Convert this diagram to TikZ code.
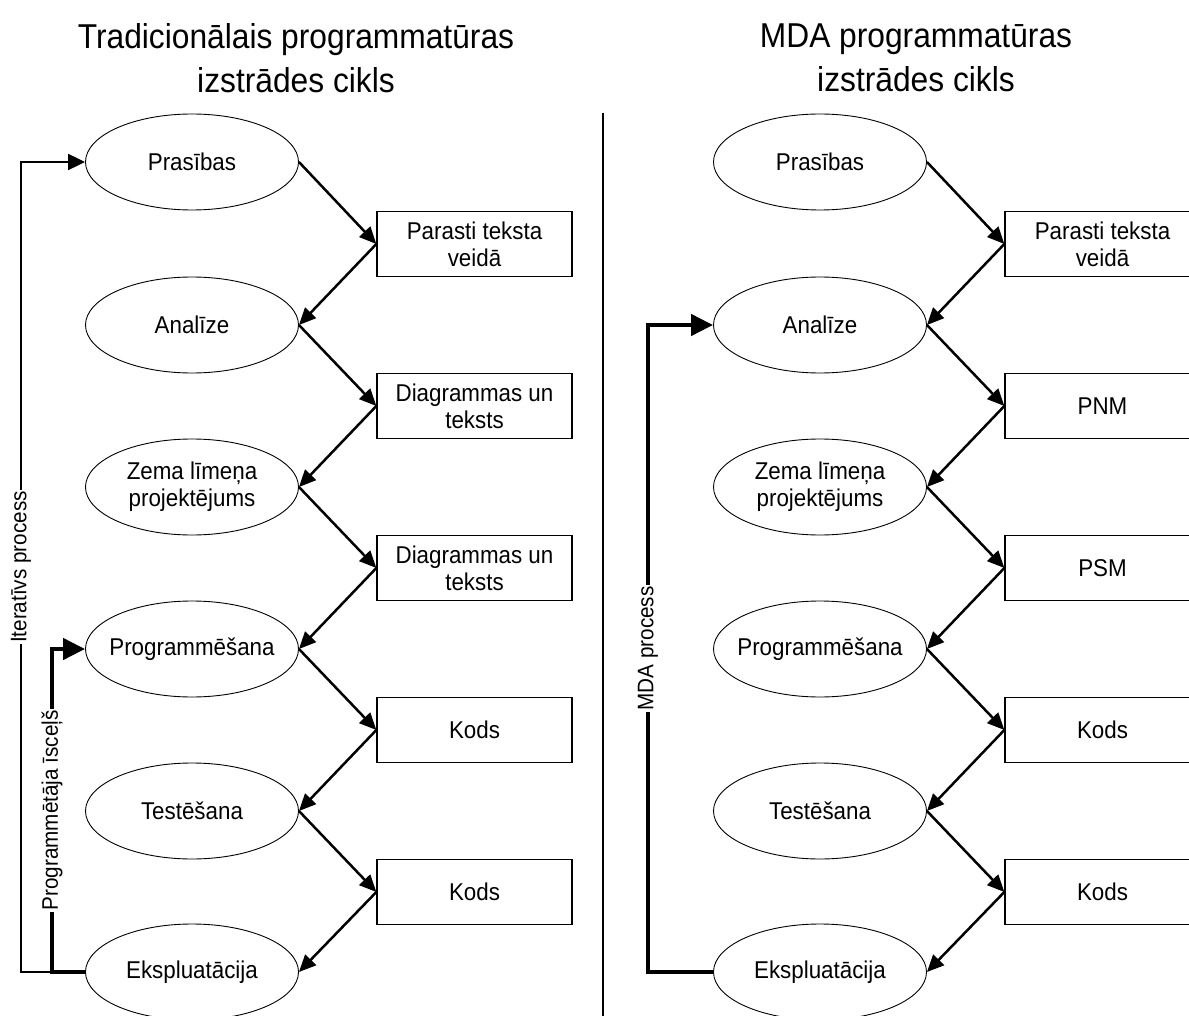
\documentclass[tikz,border=0pt]{standalone}
\usepackage{fontspec}
\setmainfont{Liberation Sans}[FakeStretch=0.92]
\usetikzlibrary{shapes.geometric,arrows.meta}

\begin{document}
\begin{tikzpicture}[x=1pt,y=-1pt,
  stage/.style={ellipse, draw, line width=0.9pt, minimum width=213pt,
    minimum height=96pt, inner xsep=-45pt, inner ysep=0pt, align=center,
    font=\fontsize{24.3}{27}\selectfont},
  artefact/.style={rectangle, draw, line width=1.3pt, minimum width=195pt,
    minimum height=65pt, inner sep=0pt, align=center,
    font=\fontsize{24.3}{27}\selectfont},
  flow/.style={line width=2.5pt, -{Triangle[length=17pt,width=15pt]}},
  loopline/.style={line width=2.2pt, -{Triangle[length=17pt,width=16pt]}},
  shortcut/.style={line width=4.5pt, -{Triangle[length=22pt,width=21pt]}},
  looplabel/.style={fill=white, rotate=90, inner sep=1pt,
    font=\fontsize{22.5}{25}\selectfont},
  heading/.style={align=center, font=\fontsize{34.5}{44}\selectfont}
]
\useasboundingbox (0,0) rectangle (1189,1016);
\clip (0,0) rectangle (1189,1016);

% headings
\node[heading] (hl) at (296,58) {Tradicionālais programmatūras\\izstrādes cikls};
\node[heading] (hr) at (916,58) {MDA programmatūras\\izstrādes cikls};

% divider between the two cycles
\coordinate (d1) at (603,113);
\coordinate (d2) at (603,1016);
\draw[line width=1.2pt] (d1) -- (d2);

% traditional cycle
\node[stage] (e1) at (192,162) {Prasības};
\node[stage] (e2) at (192,325) {Analīze};
\node[stage] (e3) at (192,487) {Zema līmeņa\\projektējums};
\node[stage] (e4) at (192,649) {Programmēšana};
\node[stage] (e5) at (192,811) {Testēšana};
\node[stage] (e6) at (192,972) {Ekspluatācija};

\node[artefact] (b1) at (474.5,244) {Parasti teksta\\veidā};
\node[artefact] (b2) at (474.5,406) {Diagrammas un\\teksts};
\node[artefact] (b3) at (474.5,568) {Diagrammas un\\teksts};
\node[artefact] (b4) at (474.5,730) {Kods};
\node[artefact] (b5) at (474.5,892) {Kods};

\foreach \i/\j in {1/2,2/3,3/4,4/5,5/6} {
  \draw[flow] (e\i.east) -- (b\i.west);
  \draw[flow] (b\i.west) -- (e\j.east);
}

\draw[loopline] (e6.west) -- ++(-64,0) |- node[pos=0.25, looplabel] {Iteratīvs process} (e1.west);
\draw[shortcut] (e6.west) -- ++(-33,0) |- node[pos=0.25, looplabel] {Programmētāja īsceļš} (e4.west);

% MDA cycle
\node[stage] (r1) at (820,162) {Prasības};
\node[stage] (r2) at (820,325) {Analīze};
\node[stage] (r3) at (820,487) {Zema līmeņa\\projektējums};
\node[stage] (r4) at (820,649) {Programmēšana};
\node[stage] (r5) at (820,811) {Testēšana};
\node[stage] (r6) at (820,972) {Ekspluatācija};

\node[artefact] (c1) at (1102.5,244) {Parasti teksta\\veidā};
\node[artefact] (c2) at (1102.5,406) {PNM};
\node[artefact] (c3) at (1102.5,568) {PSM};
\node[artefact] (c4) at (1102.5,730) {Kods};
\node[artefact] (c5) at (1102.5,892) {Kods};

\foreach \i/\j in {1/2,2/3,3/4,4/5,5/6} {
  \draw[flow] (r\i.east) -- (c\i.west);
  \draw[flow] (c\i.west) -- (r\j.east);
}

\draw[shortcut] (r6.west) -- ++(-65,0) |- node[pos=0.25, looplabel] {MDA process} (r2.west);
\end{tikzpicture}
\end{document}
